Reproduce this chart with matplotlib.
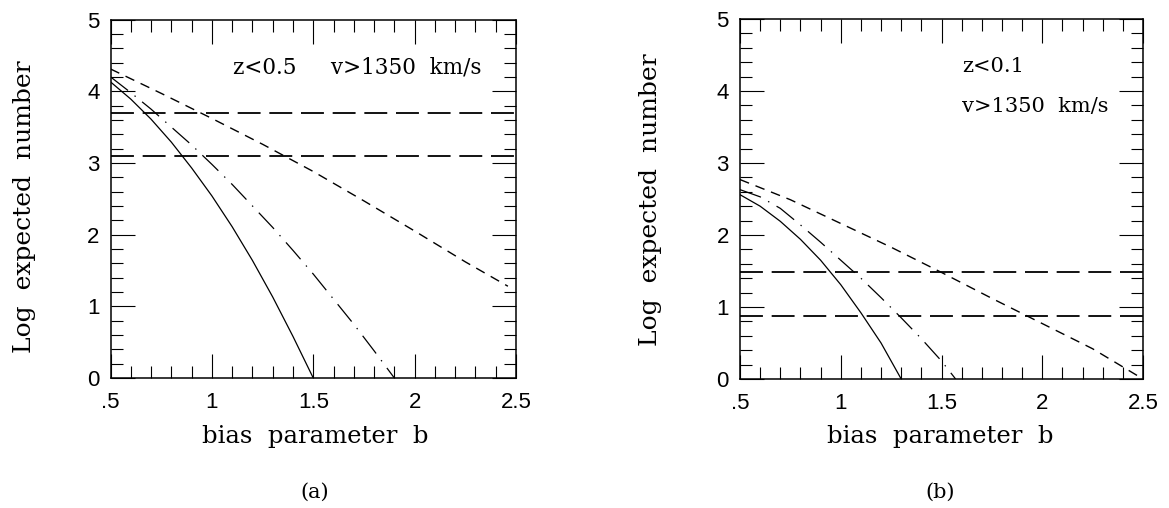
import matplotlib
matplotlib.use("Agg")
import matplotlib.pyplot as plt
from matplotlib.ticker import MultipleLocator, FixedLocator, FuncFormatter

# panel (a): z<0.5
b_solid_a = [0.5, 0.6, 0.7, 0.8, 0.9, 1.0, 1.1, 1.2, 1.3, 1.4, 1.5]
y_solid_a = [4.13, 3.89, 3.61, 3.29, 2.93, 2.54, 2.11, 1.64, 1.13, 0.58, 0.0]
b_dashdot_a = [0.5, 0.6, 0.7, 0.8, 0.9, 1.0, 1.1, 1.2, 1.3, 1.4, 1.5, 1.6, 1.7, 1.8, 1.9]
y_dashdot_a = [4.20, 3.98, 3.75, 3.50, 3.25, 2.98, 2.70, 2.40, 2.10, 1.78, 1.45, 1.10, 0.75, 0.38, 0.0]
b_dash_a = [0.5, 0.75, 1.0, 1.25, 1.5, 1.75, 2.0, 2.25, 2.46]
y_dash_a = [4.31, 3.97, 3.62, 3.26, 2.88, 2.47, 2.05, 1.62, 1.28]
levels_a = [3.70, 3.10]

# panel (b): z<0.1
b_solid_b = [0.5, 0.6, 0.7, 0.8, 0.9, 1.0, 1.1, 1.2, 1.3]
y_solid_b = [2.56, 2.40, 2.19, 1.94, 1.65, 1.31, 0.92, 0.50, 0.0]
b_dashdot_b = [0.5, 0.6, 0.7, 0.8, 0.9, 1.0, 1.1, 1.2, 1.3, 1.4, 1.5, 1.57]
y_dashdot_b = [2.63, 2.53, 2.37, 2.14, 1.90, 1.65, 1.40, 1.13, 0.85, 0.56, 0.25, 0.0]
b_dash_b = [0.5, 0.75, 1.0, 1.25, 1.5, 1.75, 2.0, 2.25, 2.5]
y_dash_b = [2.77, 2.49, 2.16, 1.83, 1.48, 1.12, 0.77, 0.42, 0.0]
levels_b = [1.48, 0.88]

xticks = [0.5, 1.0, 1.5, 2.0, 2.5]
xtick_labels = [".5", "1", "1.5", "2", "2.5"]

plt.rcParams['lines.scale_dashes'] = False

fig = plt.figure(figsize=(11.69, 5.08), dpi=100)
W, H = 1169.0, 508.0

def make_axes(x0, x1, y0, y1):
    return fig.add_axes([x0 / W, 1 - y1 / H, (x1 - x0) / W, (y1 - y0) / H])

def fmt(v, pos):
    v = round(v, 1)
    return xtick_labels[xticks.index(v)] if v in xticks else ""

def style(ax):
    ax.set_xlim(0.5, 2.5)
    ax.set_ylim(0, 5)
    ax.xaxis.set_major_locator(FixedLocator(xticks))
    ax.xaxis.set_major_formatter(FuncFormatter(fmt))
    ax.xaxis.set_minor_locator(MultipleLocator(0.1))
    ax.yaxis.set_major_locator(MultipleLocator(1))
    ax.yaxis.set_minor_locator(MultipleLocator(0.2))
    ax.tick_params(which='both', direction='in', top=True, right=True, color='black')
    ax.tick_params(which='major', length=17, width=0.8)
    ax.tick_params(which='minor', length=8.5, width=0.8)
    ax.tick_params(axis='x', which='major', pad=10, labelsize=16)
    ax.tick_params(axis='y', which='major', pad=8, labelsize=16)
    for lab in ax.get_xticklabels() + ax.get_yticklabels():
        lab.set_family('Liberation Sans')
    for s in ax.spines.values():
        s.set_linewidth(1.1)

def draw(ax, bs, ys, bd, yd, bdd, ydd, levels):
    ax.plot(bs, ys, color='black', lw=0.9)
    ax.plot(bd, yd, color='black', lw=0.9, dashes=(16, 6, 1, 6))
    ax.plot(bdd, ydd, color='black', lw=1.0, dashes=(7, 5))
    for lv in levels:
        ax.plot([0.5, 2.5], [lv, lv], color='black', lw=1.3, dashes=(16.5, 6.3))

serif = 'DejaVu Serif'

ax1 = make_axes(110.5, 516, 19.5, 378)
style(ax1)
draw(ax1, b_solid_a, y_solid_a, b_dashdot_a, y_dashdot_a, b_dash_a, y_dash_a, levels_a)
fig.text(233 / W, 1 - 67 / H, "z<0.5     v>1350  km/s", family=serif, fontsize=15.5, va='center', ha='left')

ax2 = make_axes(740, 1143, 19, 379)
style(ax2)
draw(ax2, b_solid_b, y_solid_b, b_dashdot_b, y_dashdot_b, b_dash_b, y_dash_b, levels_b)
fig.text(962 / W, 1 - 67 / H, "z<0.1", family=serif, fontsize=15, va='center', ha='left')
fig.text(962 / W, 1 - 107 / H, "v>1350  km/s", family=serif, fontsize=15, va='center', ha='left')

for xc, yc in [(25, 207), (650, 200)]:
    fig.text(xc / W, 1 - yc / H, "Log  expected  number", family=serif, fontsize=18,
             rotation=90, ha='center', va='center')
for xc, lab in [(315, "(a)"), (940, "(b)")]:
    fig.text(xc / W, 1 - 437 / H, "bias  parameter  b", family=serif, fontsize=17.5, ha='center', va='center')
    fig.text(xc / W, 1 - 492 / H, lab, family=serif, fontsize=15, ha='center', va='center')

fig.savefig("out.png", dpi=100)
